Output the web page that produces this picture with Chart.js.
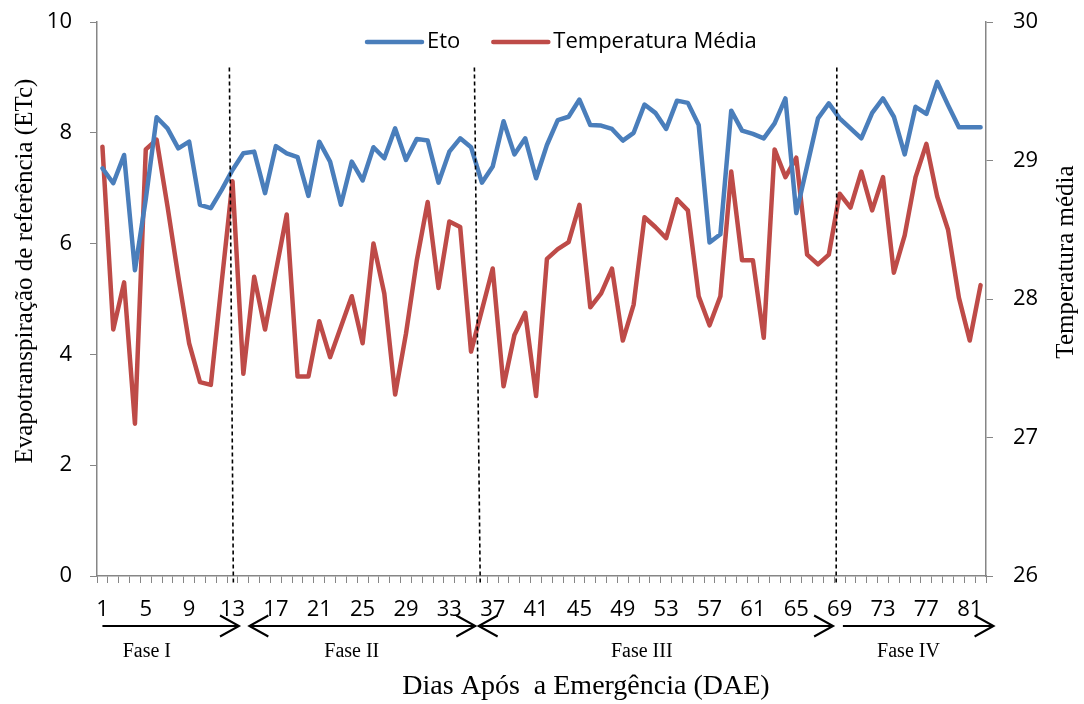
<html><head><meta charset="utf-8">
<script src="https://cdn.jsdelivr.net/npm/chart.js@4.4.1/dist/chart.umd.min.js"></script>
<style>
  body { margin: 0; background: #fff; }
  canvas { display: block; }
</style>
</head>
<body>
<canvas id="myChart" width="1084" height="704"></canvas>
<script>
// dias apos a emergencia
var days = [];
for (var d = 1; d <= 82; d++) days.push(d);

var eto = [7.36, 7.09, 7.60, 5.52, 6.80, 8.28, 8.08, 7.72, 7.84, 6.70,
           6.64, 6.97, 7.33, 7.63, 7.66, 6.91, 7.76, 7.63, 7.56, 6.86,
           7.84, 7.48, 6.70, 7.48, 7.14, 7.74, 7.54, 8.08, 7.51, 7.89,
           7.86, 7.10, 7.66, 7.90, 7.74, 7.10, 7.39, 8.21, 7.61, 7.90,
           7.18, 7.78, 8.23, 8.29, 8.60, 8.14, 8.13, 8.07, 7.86, 8.00,
           8.51, 8.36, 8.07, 8.58, 8.54, 8.14, 6.02, 6.17, 8.40, 8.04,
           7.98, 7.90, 8.17, 8.62, 6.55, 7.40, 8.26, 8.53, 8.26, 8.08,
           7.90, 8.36, 8.62, 8.29, 7.61, 8.47, 8.34, 8.92, 8.50, 8.10,
           8.10, 8.10];

var tempMedia = [29.10, 27.78, 28.12, 27.10, 29.08, 29.15, 28.67, 28.16, 27.68, 27.40,
                 27.38, 28.12, 28.85, 27.46, 28.16, 27.78, 28.20, 28.61, 27.44, 27.44,
                 27.84, 27.58, 27.80, 28.02, 27.68, 28.40, 28.04, 27.31, 27.75, 28.28,
                 28.70, 28.08, 28.56, 28.52, 27.62, 27.92, 28.22, 27.37, 27.74, 27.90,
                 27.30, 28.29, 28.36, 28.41, 28.68, 27.94, 28.04, 28.22, 27.70, 27.96,
                 28.59, 28.52, 28.44, 28.72, 28.64, 28.02, 27.81, 28.02, 28.92, 28.28,
                 28.28, 27.72, 29.08, 28.88, 29.02, 28.32, 28.25, 28.32, 28.76, 28.66,
                 28.92, 28.64, 28.88, 28.19, 28.46, 28.88, 29.12, 28.74, 28.50, 28.01,
                 27.70, 28.10];

// fases (em dias)
var phaseNames = ['Fase I', 'Fase II', 'Fase III', 'Fase IV'];
var phaseFrom = [1, 14.55, 35.7, 69.3];
var phaseTo = [13.6, 35.4, 68.4, 83.2];
var phaseBothHeads = [false, true, true, false];
var phaseLabelDay = [5.1, 24, 50.75, 75.35];
var dividerTop = [12.71, 35.31, 68.74];
var dividerBottom = [13.08, 35.85, 68.68];

var serif = '"Liberation Serif", "Times New Roman", serif';
var sans = '"Open Sans", sans-serif';
var gray = '#868686';

function arrow(ctx, x1, x2, yy, bothHeads) {
  ctx.beginPath();
  ctx.moveTo(x1, yy); ctx.lineTo(x2, yy);
  ctx.moveTo(x2 - 19, yy - 10.5); ctx.lineTo(x2, yy); ctx.lineTo(x2 - 19, yy + 10.5);
  if (bothHeads) {
    ctx.moveTo(x1 + 19, yy - 10.5); ctx.lineTo(x1, yy); ctx.lineTo(x1 + 19, yy + 10.5);
  }
  ctx.stroke();
}

function vText(ctx, text, cx, cy) {
  ctx.save();
  ctx.translate(cx, cy);
  ctx.rotate(-Math.PI / 2);
  ctx.fillText(text, 0, 0);
  ctx.restore();
}

// fixa a largura do eixo e tira o espaco extra dos rotulos
function fixWidth(w) {
  return function(s) { s.width = w; s.paddingTop = 0; s.paddingBottom = 0; };
}

var extras = {
  id: 'extras',
  afterDatasetsDraw: function(chart) {
    var ctx = chart.ctx, x = chart.scales.x, y = chart.scales.y;
    ctx.save();
    ctx.strokeStyle = '#000';
    ctx.lineWidth = 1.6;
    ctx.setLineDash([4, 3]);
    for (var k = 0; k < dividerTop.length; k++) {
      ctx.beginPath();
      ctx.moveTo(x.getPixelForValue(dividerTop[k] - 1), y.getPixelForValue(9.18));
      ctx.lineTo(x.getPixelForValue(dividerBottom[k] - 1), chart.chartArea.bottom + 9);
      ctx.stroke();
    }
    ctx.restore();
  },
  afterDraw: function(chart) {
    var ctx = chart.ctx, x = chart.scales.x;
    ctx.save();
    // setas das fases
    ctx.strokeStyle = '#000';
    ctx.lineWidth = 2;
    for (var k = 0; k < phaseNames.length; k++) {
      arrow(ctx, x.getPixelForValue(phaseFrom[k] - 1), x.getPixelForValue(phaseTo[k] - 1), 626, phaseBothHeads[k]);
    }
    ctx.fillStyle = '#000';
    ctx.textAlign = 'center';
    ctx.textBaseline = 'middle';
    ctx.font = '20px ' + serif;
    for (k = 0; k < phaseNames.length; k++) {
      ctx.fillText(phaseNames[k], x.getPixelForValue(phaseLabelDay[k] - 1), 652);
    }
    // titulos dos eixos
    ctx.font = '28px ' + serif;
    ctx.fillText('Dias Após  a Emergência (DAE)', 586, 687);
    ctx.font = '25px ' + serif;
    vText(ctx, 'Evapotranspiração de referência (ETc)', 25, 271);
    vText(ctx, 'Temperatura média', 1066, 262);
    // legenda
    ctx.font = '22px ' + sans;
    ctx.textAlign = 'left';
    ctx.lineCap = 'round';
    var lx = 367, ly = 42;
    chart.data.datasets.forEach(function(ds) {
      ctx.strokeStyle = ds.borderColor;
      ctx.lineWidth = ds.borderWidth;
      ctx.beginPath(); ctx.moveTo(lx, ly); ctx.lineTo(lx + 55, ly); ctx.stroke();
      ctx.fillText(ds.label, lx + 60, ly);
      lx += 60 + ctx.measureText(ds.label).width + 33;
    });
    ctx.restore();
  }
};

Chart.defaults.font.family = sans;
Chart.defaults.font.size = 22;
Chart.defaults.color = '#000';

var ctx = document.getElementById('myChart');
var myChart = new Chart(ctx, {
  type: 'line',
  data: {
    labels: days,
    datasets: [{
      label: 'Eto',
      data: eto,
      yAxisID: 'y',
      borderColor: '#4A7EBB',
      borderWidth: 4.5,
      borderCapStyle: 'round',
      borderJoinStyle: 'round',
      pointRadius: 0,
      tension: 0,
      fill: false
    }, {
      label: 'Temperatura Média',
      data: tempMedia,
      yAxisID: 'y1',
      borderColor: '#BE4B48',
      borderWidth: 4.5,
      borderCapStyle: 'round',
      borderJoinStyle: 'round',
      pointRadius: 0,
      tension: 0,
      fill: false
    }]
  },
  options: {
    responsive: false,
    animation: false,
    devicePixelRatio: 1,
    layout: { padding: { top: 22, left: 0, right: 0, bottom: 0 } },
    plugins: { legend: { display: false }, tooltip: { enabled: false } },
    scales: {
      x: {
        type: 'category',
        offset: true,
        grid: { drawOnChartArea: false, drawTicks: true, tickLength: 7, color: gray, offset: true },
        border: { color: gray, width: 1.5 },
        ticks: {
          autoSkip: false, maxRotation: 0, padding: 14,
          callback: function(v, i) { return i % 4 === 0 ? this.getLabelForValue(v) : ''; }
        },
        afterFit: function(s) { s.height = 128; s.paddingLeft = 0; s.paddingRight = 0; }
      },
      y: {
        position: 'left',
        min: 0, max: 10,
        ticks: { stepSize: 2, padding: 18 },
        grid: { drawOnChartArea: false, tickLength: 7, color: gray },
        border: { color: gray, width: 1.5 },
        afterFit: fixWidth(97)
      },
      y1: {
        position: 'right',
        min: 26, max: 30,
        ticks: { stepSize: 1, padding: 20 },
        grid: { drawOnChartArea: false, tickLength: 7, color: gray },
        border: { color: gray, width: 1.5 },
        afterFit: fixWidth(98)
      }
    }
  },
  plugins: [extras]
});
</script>
</body></html>
